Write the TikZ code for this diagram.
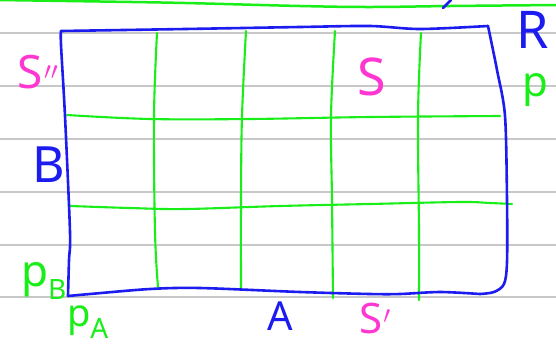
\documentclass[tikz,border=0pt]{standalone}
\usepackage{fontspec}
\setmainfont{Noto Sans}
\definecolor{inkgreen}{RGB}{25,238,25}
\definecolor{inkblue}{RGB}{28,28,240}
\definecolor{inkpink}{RGB}{255,55,210}
\definecolor{rulegray}{RGB}{200,200,200}
\tikzset{
  ruleline/.style={draw=rulegray,line width=1.3pt},
  greenink/.style={draw=inkgreen,line width=2.1pt,line cap=round,line join=round},
  blueink/.style={draw=inkblue,line width=2.6pt,line cap=round,line join=round},
  lbl/.style={inner sep=0pt,outer sep=0pt},
}
\newcommand{\fsz}[1]{\fontsize{#1}{#1}\selectfont}
\begin{document}
\begin{tikzpicture}[x=1pt,y=-1pt]
\useasboundingbox (0,0) rectangle (556,349);
\fill[white] (0,0) rectangle (556,349);
% ruled notebook lines
\foreach \yy in {33,86,139,192,245,297}
  \draw[ruleline] (0,\yy) -- (556,\yy);
% green line at the top
\draw[greenink,line width=2.5pt] plot[smooth,tension=0.6] coordinates {(-2,0) (100,1.5) (185,3) (300,6) (370,7) (450,6) (558,5)};
% small blue tick at top
\draw[blueink] (443,8) -- (451,0);
% green grid: horizontals
\draw[greenink] plot[smooth,tension=0.6] coordinates {(67,115) (150,119) (250,119) (370,117) (500,116)};
\draw[greenink] plot[smooth,tension=0.6] coordinates {(71,206) (130,208) (185,209) (280,206) (370,204) (460,202) (490,203) (512,204)};
% green grid: verticals
\draw[greenink] plot[smooth,tension=0.6] coordinates {(157,33) (154,116) (155,232) (158,287)};
\draw[greenink] plot[smooth,tension=0.6] coordinates {(246,31) (242,116) (241,200) (241,288)};
\draw[greenink] plot[smooth,tension=0.6] coordinates {(335,31) (331,116) (332,200) (333,298)};
\draw[greenink] plot[smooth,tension=0.6] coordinates {(421,33) (418,116) (419,232) (419,300)};
% blue rectangle (hand-drawn)
\draw[blueink] plot[smooth,tension=0.5] coordinates {(61,31) (185,29) (300,27) (370,26) (420,29) (488,26)};
\draw[blueink] plot[smooth,tension=0.5] coordinates {(488,26) (497,70) (505,116) (507,200) (507,262) (504,284) (494,292) (480,294)};
\draw[blueink] plot[smooth,tension=0.5] coordinates {(480,294) (440,292) (400,294) (370,294) (300,292) (200,288) (150,289) (90,294) (68,296)};
\draw[blueink] plot[smooth,tension=0.5] coordinates {(68,296) (69,260) (70,232) (65,116) (61,45) (61,31)};
% labels
\node[lbl,text=inkpink] (s2) at (38,72) {\fsz{46}S\kern1pt$^{\prime\prime}$};
\node[lbl,text=inkpink] (s) at (372,77) {\fsz{52}S};
\node[lbl,text=inkblue] (r) at (533,30) {\fsz{52}R};
\node[lbl,text=inkgreen] (p) at (535,90) {\fsz{42}p};
\node[lbl,text=inkblue] (b) at (49,165) {\fsz{50}B};
\node[lbl,text=inkgreen] (pb) at (44,281) {\fsz{44}p\kern-0.5pt\raisebox{-0.3em}{\fsz{28}B}};
\node[lbl,text=inkgreen] (pa) at (88,322) {\fsz{38}p\kern-0.5pt\raisebox{-0.3em}{\fsz{28}A}};
\node[lbl,text=inkblue] (a) at (280,316) {\fsz{40}A};
\node[lbl,text=inkpink] (s1) at (375,318) {\fsz{42}S\kern1pt$^{\prime}$};
\end{tikzpicture}
\end{document}
